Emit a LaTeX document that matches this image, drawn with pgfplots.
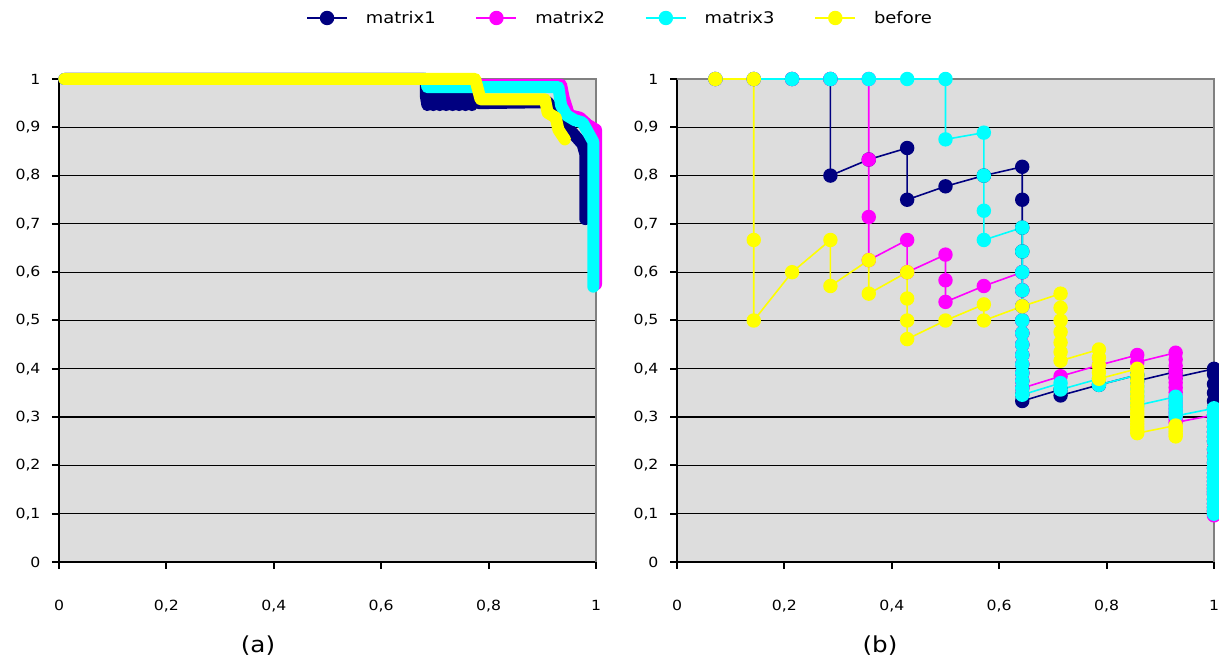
\documentclass[border=0pt]{standalone}
\usepackage{fontspec}
\setmainfont{DejaVu Sans}[FakeStretch=1.12]
\usepackage{pgfplots}
\pgfplotsset{compat=1.18}

\definecolor{mnavy}{RGB}{0,0,128}
\definecolor{mmag}{RGB}{255,0,255}
\definecolor{mcyan}{RGB}{0,255,255}
\definecolor{myel}{RGB}{255,255,0}
\definecolor{bggray}{RGB}{221,221,221}
\definecolor{bordergray}{RGB}{128,128,128}

\pgfplotsset{
  prpanel/.style={
    scale only axis, width=537pt, height=483pt,
    xmin=0, xmax=1, ymin=0, ymax=1,
    axis lines*=left,
    axis line style={black, line width=2pt},
    axis background/.style={fill=bggray},
    clip=false,
    xtick={0,0.2,0.4,0.6,0.8,1},
    ytick={0,0.1,0.2,0.3,0.4,0.5,0.6,0.7,0.8,0.9,1},
    ymajorgrids, grid style={black, line width=1.2pt},
    tick align=outside, major tick length=7pt,
    tick style={black, line width=2pt},
    /pgf/number format/.cd, use comma, fixed, precision=1, assume math mode=true,
    /pgfplots/.cd,
    tick label style={font=\fontsize{14}{16}\selectfont},
    xticklabel style={yshift=-28pt},
    yticklabel style={xshift=-8pt},
  },
  thick line/.style={line width=12pt, line cap=round, line join=round},
  pr/.style={color=#1, line width=1.6pt, mark=*, mark size=6.4pt,
    mark options={solid, draw=none, fill=#1}},
}

\begin{document}
\begin{tikzpicture}

% ---------------- panel (a) ----------------
\begin{axis}[prpanel, at={(59pt,99pt)}, anchor=south west,
  legend columns=4,
  legend style={at={(1.0447,1.1263)}, anchor=center, draw=none, fill=none,
    font=\fontsize{16}{18}\selectfont,
    /tikz/every odd column/.append style={column sep=16pt},
    /tikz/every even column/.append style={column sep=38pt}},
  legend image code/.code={\draw[mark repeat=2,mark phase=2,#1]
    plot coordinates {(0pt,0pt) (20pt,0pt) (40pt,0pt)};},
]
\draw[bordergray, line width=2pt] (rel axis cs:0,1) -- (rel axis cs:1,1) -- (rel axis cs:1,0);

\addlegendimage{pr=mnavy}\addlegendentry{matrix1}
\addlegendimage{pr=mmag}\addlegendentry{matrix2}
\addlegendimage{pr=mcyan}\addlegendentry{matrix3}
\addlegendimage{pr=myel}\addlegendentry{before}

% matrix1
\addplot[mnavy, thick line, forget plot] coordinates {
(0.01,1) (0.683,1) (0.683,0.966) (0.686,0.946) (0.691,0.964) (0.697,0.946)
(0.703,0.964) (0.709,0.946) (0.715,0.964) (0.721,0.946) (0.727,0.964)
(0.733,0.946) (0.739,0.964) (0.745,0.946) (0.751,0.964) (0.757,0.946)
(0.763,0.964) (0.769,0.946) (0.775,0.962) (0.782,0.95)
(0.91,0.952) (0.93,0.925) (0.955,0.89) (0.975,0.865) (0.98,0.845) (0.98,0.71)};
% matrix2
\addplot[mmag, thick line, forget plot] coordinates {
(0.01,1) (0.68,1) (0.69,0.988) (0.935,0.988) (0.94,0.96) (0.95,0.925)
(0.97,0.92) (0.985,0.905) (1,0.895) (1,0.575)};
% matrix3
\addplot[mcyan, thick line, forget plot] coordinates {
(0.01,1) (0.683,1) (0.686,0.983) (0.93,0.983) (0.935,0.945) (0.945,0.925)
(0.96,0.915) (0.975,0.91) (0.985,0.89) (0.995,0.87) (0.995,0.57)};
% before
\addplot[myel, thick line, forget plot] coordinates {
(0.01,1) (0.775,1) (0.785,0.958) (0.905,0.958) (0.91,0.93) (0.925,0.92)
(0.93,0.895) (0.942,0.875)};
\end{axis}

% ---------------- panel (b) ----------------
\begin{axis}[prpanel, at={(677pt,99pt)}, anchor=south west]
\draw[bordergray, line width=2pt] (rel axis cs:0,1) -- (rel axis cs:1,1) -- (rel axis cs:1,0);

% matrix1
\addplot[pr=mnavy] coordinates {
(0.0714,1) (0.1429,1) (0.2143,1) (0.2857,1) (0.2857,0.8) (0.3571,0.8333)
(0.4286,0.8571) (0.4286,0.75) (0.5,0.7778) (0.5714,0.8) (0.6429,0.8182)
(0.6429,0.75) (0.6429,0.6923) (0.6429,0.6429) (0.6429,0.6) (0.6429,0.5625)
(0.6429,0.5294) (0.6429,0.5) (0.6429,0.4737) (0.6429,0.45) (0.6429,0.4286)
(0.6429,0.4091) (0.6429,0.3913) (0.6429,0.375) (0.6429,0.36) (0.6429,0.3462)
(0.6429,0.3333) (0.7143,0.3571) (0.7143,0.3448) (0.7857,0.3667)
(0.8571,0.3871) (0.8571,0.375) (0.9286,0.3939) (0.9286,0.3824) (1,0.4)
(1,0.3889) (1,0.3684) (1,0.35) (1,0.3333) (1,0.3182) (1,0.3043) (1,0.2917)
(1,0.28) (1,0.2692) (1,0.2593) (1,0.25) (1,0.2333) (1,0.2188) (1,0.2059)
(1,0.1944) (1,0.1842) (1,0.175) (1,0.1667) (1,0.1591) (1,0.1522) (1,0.1458)
(1,0.14) (1,0.1296) (1,0.1207) (1,0.1129) (1,0.1061) (1,0.1)};
% matrix2
\addplot[pr=mmag] coordinates {
(0.0714,1) (0.1429,1) (0.2143,1) (0.2857,1) (0.3571,1) (0.3571,0.8333)
(0.3571,0.7143) (0.3571,0.625) (0.4286,0.6667) (0.4286,0.6) (0.5,0.6364)
(0.5,0.5833) (0.5,0.5385) (0.5714,0.5714) (0.6429,0.6) (0.6429,0.5625)
(0.6429,0.5294) (0.6429,0.5) (0.6429,0.4737) (0.6429,0.45) (0.6429,0.4286)
(0.6429,0.4091) (0.6429,0.3913) (0.6429,0.375) (0.6429,0.36)
(0.7143,0.3846) (0.7857,0.4074) (0.8571,0.4286) (0.8571,0.4138)
(0.9286,0.4333) (0.9286,0.4194) (0.9286,0.4063) (0.9286,0.3939)
(0.9286,0.3824) (0.9286,0.3714) (0.9286,0.3611) (0.9286,0.3514)
(0.9286,0.3421) (0.9286,0.3333) (0.9286,0.325) (0.9286,0.3171)
(0.9286,0.3095) (0.9286,0.3023) (0.9286,0.2955) (0.9286,0.2889)
(1,0.3043) (1,0.2979) (1,0.2917) (1,0.28) (1,0.2692) (1,0.2593) (1,0.25)
(1,0.2333) (1,0.2188) (1,0.2059) (1,0.1944) (1,0.1842) (1,0.175) (1,0.1667)
(1,0.1591) (1,0.1522) (1,0.1458) (1,0.14) (1,0.1296) (1,0.1207) (1,0.1129)
(1,0.1061) (1,0.1) (1,0.0966)};
% matrix3
\addplot[pr=mcyan] coordinates {
(0.0714,1) (0.1429,1) (0.2143,1) (0.2857,1) (0.3571,1) (0.4286,1) (0.5,1)
(0.5,0.875) (0.5714,0.8889) (0.5714,0.8) (0.5714,0.7273) (0.5714,0.6667)
(0.6429,0.6923) (0.6429,0.6429) (0.6429,0.6) (0.6429,0.5625) (0.6429,0.5294)
(0.6429,0.5) (0.6429,0.4737) (0.6429,0.45) (0.6429,0.4286) (0.6429,0.4091)
(0.6429,0.3913) (0.6429,0.375) (0.6429,0.36) (0.6429,0.3462)
(0.7143,0.3704) (0.7143,0.3571) (0.7857,0.3793) (0.7857,0.3667)
(0.8571,0.3871) (0.8571,0.375) (0.8571,0.3636) (0.8571,0.3529)
(0.8571,0.3429) (0.8571,0.3333) (0.8571,0.3243) (0.9286,0.3421)
(0.9286,0.3333) (0.9286,0.325) (0.9286,0.3171) (0.9286,0.3095)
(0.9286,0.3023) (1,0.3182) (1,0.3111) (1,0.3043) (1,0.2917) (1,0.28)
(1,0.2692) (1,0.2593) (1,0.25) (1,0.2333) (1,0.2188) (1,0.2059) (1,0.1944)
(1,0.1842) (1,0.175) (1,0.1667) (1,0.1591) (1,0.1522) (1,0.1458) (1,0.14)
(1,0.1296) (1,0.1207) (1,0.1129) (1,0.1061) (1,0.1)};
% before
\addplot[pr=myel] coordinates {
(0.0714,1) (0.1429,1) (0.1429,0.6667) (0.1429,0.5) (0.2143,0.6)
(0.2857,0.6667) (0.2857,0.5714) (0.3571,0.625) (0.3571,0.5556)
(0.4286,0.6) (0.4286,0.5455) (0.4286,0.5) (0.4286,0.4615) (0.5,0.5)
(0.5714,0.5333) (0.5714,0.5) (0.6429,0.5294) (0.7143,0.5556)
(0.7143,0.5263) (0.7143,0.5) (0.7143,0.4762) (0.7143,0.4545)
(0.7143,0.4348) (0.7143,0.4167) (0.7857,0.44) (0.7857,0.4231)
(0.7857,0.4074) (0.7857,0.3929) (0.7857,0.3793) (0.8571,0.4)
(0.8571,0.3871) (0.8571,0.375) (0.8571,0.3636) (0.8571,0.3529)
(0.8571,0.3429) (0.8571,0.3333) (0.8571,0.3243) (0.8571,0.3158)
(0.8571,0.3077) (0.8571,0.3) (0.8571,0.2927) (0.8571,0.2857)
(0.8571,0.2791) (0.8571,0.2727) (0.8571,0.2667) (0.9286,0.2826)
(0.9286,0.2766) (0.9286,0.2708) (0.9286,0.2653) (0.9286,0.26)};
\end{axis}

\node[font=\fontsize{22}{24}\selectfont] at (258pt,15pt) {(a)};
\node[font=\fontsize{22}{24}\selectfont] at (880pt,15pt) {(b)};

\pgfresetboundingbox
\path[use as bounding box] (0pt,0pt) rectangle (1219pt,661pt);
\end{tikzpicture}
\end{document}
